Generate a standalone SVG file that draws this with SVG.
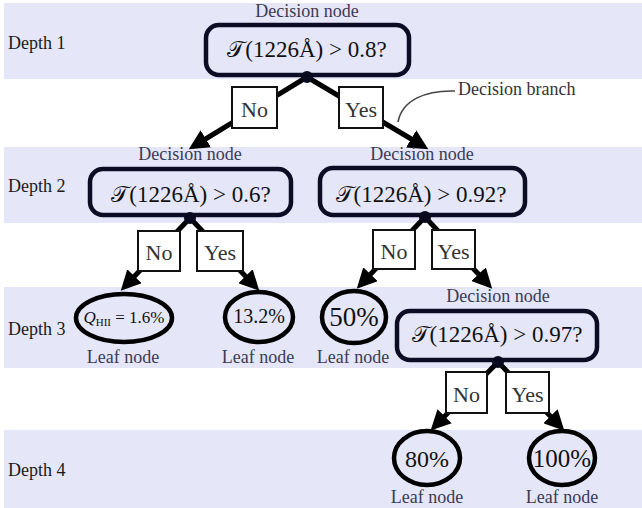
<svg xmlns="http://www.w3.org/2000/svg" width="642" height="508" viewBox="0 0 642 508">
<style>
.band{fill:#e5e7f9}
text{font-family:"Liberation Serif","DejaVu Serif",serif}
.depth{font-size:18px;fill:#1a1a1a}
.cap{font-size:18px;fill:#3a3a55;text-anchor:middle}
.dn{fill:none;stroke:#0c0c24;stroke-width:4.5}
.math{font-size:23px;fill:#111;text-anchor:middle}
.dot{fill:#0a0a1e}
.leaf{fill:none;stroke:#000;stroke-width:4.5}
.lt{fill:#111;text-anchor:middle}
.edge{stroke:#000;stroke-width:5;fill:none;marker-end:url(#ah)}
.lbl{fill:#fff;stroke:#111;stroke-width:2}
.lbt{font-size:22px;fill:#333;text-anchor:middle}
</style>
<defs>
<marker id="ah" markerUnits="userSpaceOnUse" markerWidth="22" markerHeight="20" refX="8" refY="10" orient="auto">
<path d="M0,0 L20,10 L0,20 z" fill="#000"/>
</marker>
</defs>
<g id="bands">
<rect class="band" x="4" y="3" width="638" height="76"/>
<rect class="band" x="4" y="147" width="638" height="76"/>
<rect class="band" x="4" y="287" width="638" height="81"/>
<rect class="band" x="4" y="430" width="638" height="78"/>
<text class="depth" x="8" y="49">Depth 1</text>
<text class="depth" x="8" y="192">Depth 2</text>
<text class="depth" x="8" y="335">Depth 3</text>
<text class="depth" x="8" y="476">Depth 4</text>
</g>
<g id="connectors">
<line class="edge" x1="307" y1="77" x2="199" y2="143"/>
<line class="edge" x1="307" y1="77" x2="418" y2="143"/>
<line class="edge" x1="190" y1="218" x2="129" y2="282"/>
<line class="edge" x1="190" y1="218" x2="251" y2="282"/>
<line class="edge" x1="425" y1="217" x2="365" y2="280"/>
<line class="edge" x1="425" y1="217" x2="484" y2="280"/>
<line class="edge" x1="498" y1="362" x2="439" y2="422"/>
<line class="edge" x1="498" y1="362" x2="556" y2="422"/>
<rect class="lbl" x="232" y="87" width="45" height="41"/><text class="lbt" x="254.5" y="117">No</text>
<rect class="lbl" x="339" y="87" width="44" height="41"/><text class="lbt" x="361" y="117">Yes</text>
<rect class="lbl" x="138" y="231" width="42" height="40"/><text class="lbt" x="159" y="260">No</text>
<rect class="lbl" x="197" y="231" width="46" height="40"/><text class="lbt" x="220" y="260">Yes</text>
<rect class="lbl" x="373" y="230" width="42" height="39"/><text class="lbt" x="394" y="259">No</text>
<rect class="lbl" x="432" y="230" width="43" height="39"/><text class="lbt" x="453.5" y="259">Yes</text>
<rect class="lbl" x="446" y="372" width="41" height="41"/><text class="lbt" x="466.5" y="402">No</text>
<rect class="lbl" x="506" y="372" width="43" height="41"/><text class="lbt" x="527.5" y="402">Yes</text>
<path d="M455,91 C426,90 402,100 398,122" fill="none" stroke="#444" stroke-width="1.6"/>
<text x="458" y="95" font-size="18" fill="#333">Decision branch</text>
</g>
<g id="node1">
<text class="cap" x="307" y="17">Decision node</text>
<rect class="dn" x="206" y="25" width="203" height="50" rx="13"/>
<text class="math" x="307" y="57">𝒯(1226Å) &gt; 0.8?</text>
<circle class="dot" cx="307" cy="77" r="6"/>
</g>
<g id="node2l">
<text class="cap" x="190" y="160">Decision node</text>
<rect class="dn" x="90" y="169" width="201" height="46" rx="13"/>
<text class="math" x="191" y="202">𝒯(1226Å) &gt; 0.6?</text>
<circle class="dot" cx="190" cy="218" r="6"/>
</g>
<g id="node2r">
<text class="cap" x="422" y="160">Decision node</text>
<rect class="dn" x="320" y="168" width="205" height="47" rx="13"/>
<text class="math" x="421" y="202">𝒯(1226Å) &gt; 0.92?</text>
<circle class="dot" cx="425" cy="217" r="6"/>
</g>
<g id="node3">
<text class="cap" x="498" y="302">Decision node</text>
<rect class="dn" x="397" y="311" width="200" height="49" rx="13"/>
<text class="math" x="497" y="342">𝒯(1226Å) &gt; 0.97?</text>
<circle class="dot" cx="498" cy="362" r="6"/>
</g>
<g id="leaf1">
<ellipse class="leaf" cx="124" cy="318" rx="48" ry="24"/>
<text class="lt" x="124" y="323" font-size="17"><tspan font-style="italic">Q</tspan><tspan font-size="11" dy="3">HII</tspan><tspan dy="-3"> = 1.6%</tspan></text>
<text class="cap" x="123" y="363">Leaf node</text>
</g>
<g id="leaf2">
<ellipse class="leaf" cx="259" cy="317" rx="34" ry="25"/>
<text class="lt" x="259" y="323" font-size="20">13.2%</text>
<text class="cap" x="258" y="363">Leaf node</text>
</g>
<g id="leaf3">
<ellipse class="leaf" cx="354" cy="317" rx="32" ry="26"/>
<text class="lt" x="354" y="326" font-size="27">50%</text>
<text class="cap" x="353" y="363">Leaf node</text>
</g>
<g id="leaf4">
<ellipse class="leaf" cx="427" cy="458" rx="33" ry="27"/>
<text class="lt" x="427" y="467" font-size="24">80%</text>
<text class="cap" x="427" y="503">Leaf node</text>
</g>
<g id="leaf5">
<ellipse class="leaf" cx="562" cy="458" rx="33" ry="27"/>
<text class="lt" x="562" y="467" font-size="25">100%</text>
<text class="cap" x="562" y="503">Leaf node</text>
</g>
</svg>
